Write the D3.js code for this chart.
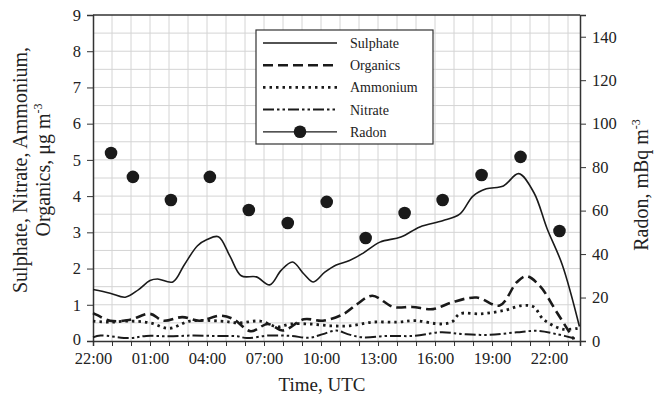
<!DOCTYPE html>
<html>
<head>
<meta charset="utf-8">
<script src="https://cdn.jsdelivr.net/npm/d3@7"></script>
<style>
  body { margin: 0; background: #fff; }
  text { font-family: "Liberation Serif", "Times New Roman", serif; fill: #222; }
</style>
</head>
<body>
<div id="graf"></div>
<script>
// Datos - tiempo en horas desde las 22:00
sulphate = [[0,1.42],[0.9,1.32],[1.7,1.21],[2.4,1.42],[3.0,1.67],[3.4,1.71],[4.2,1.63],[4.8,2.1],[5.5,2.63],[6.0,2.8],[6.6,2.88],[7.2,2.35],[7.8,1.8],[8.6,1.77],[9.3,1.55],[9.9,1.95],[10.5,2.18],[11.1,1.85],[11.6,1.63],[12.2,1.9],[12.8,2.1],[13.5,2.22],[14.2,2.42],[15.1,2.73],[16.2,2.87],[17.2,3.15],[18.4,3.32],[19.3,3.5],[20.0,4.0],[20.7,4.2],[21.6,4.28],[22.4,4.62],[23.2,4.1],[23.9,3.1],[24.7,2.1],[25.6,0.4]]
organics = [[0,0.77],[0.2,0.72],[0.9,0.56],[1.9,0.58],[3.0,0.75],[3.7,0.56],[4.7,0.66],[5.6,0.56],[6.7,0.7],[7.4,0.6],[8.3,0.27],[9.2,0.47],[10.0,0.29],[11.1,0.6],[12.1,0.56],[13.2,0.75],[13.9,1.02],[14.7,1.25],[15.8,0.94],[16.8,0.94],[17.9,0.88],[18.9,1.07],[20.2,1.2],[21.4,0.98],[22.3,1.62],[22.8,1.79],[23.5,1.53],[24.4,0.8],[25.3,0.05]]
ammonium = [[0,0.55],[0.9,0.52],[1.9,0.55],[3.0,0.5],[4.0,0.35],[5.1,0.55],[6.7,0.55],[7.7,0.5],[8.8,0.55],[9.7,0.39],[10.4,0.47],[11.4,0.47],[12.5,0.42],[13.5,0.42],[14.7,0.52],[16.0,0.52],[17.0,0.56],[18.3,0.47],[18.9,0.53],[19.3,0.75],[20.4,0.75],[21.6,0.84],[22.6,0.98],[23.2,0.94],[23.7,0.6],[24.7,0.33],[25.5,0.35]]
nitrate = [[0,0.1],[0.4,0.15],[1.9,0.08],[2.8,0.14],[4.0,0.13],[5.2,0.15],[6.4,0.14],[7.6,0.13],[8.1,0.08],[9.2,0.15],[10.4,0.14],[11.4,0.09],[12.1,0.19],[12.8,0.29],[13.4,0.19],[14.2,0.1],[15.5,0.14],[16.9,0.14],[18.3,0.24],[19.5,0.19],[20.9,0.17],[22.3,0.24],[23.4,0.28],[24.4,0.19],[25.5,0.05]]
radon = [[0.95,86.5],[2.1,75.5],[4.1,64.9],[6.15,75.5],[8.2,60.3],[10.25,54.3],[12.3,64.0],[14.35,47.4],[16.4,58.9],[18.4,64.9],[20.45,76.4],[22.5,84.7],[24.55,50.6]]

tickHoras = [0,3,6,9,12,15,18,21,24]
tickLabels = ['22:00','01:00','04:00','07:00','10:00','13:00','16:00','19:00','22:00']
series = ['Sulphate','Organics','Ammonium','Nitrate','Radon']

// Configuración del canvas
ancho_total = 654
alto_total = 401
margins = {top: 15, left: 93, right: 74, bottom: 60}
ancho = ancho_total - margins.left - margins.right
alto = alto_total - margins.top - margins.bottom

svg = d3.select('#graf').append('svg')
        .attr('width', ancho_total)
        .attr('height', alto_total)

g = svg.append('g')
       .attr('transform', `translate(${margins.left}, ${margins.top})`)

// -- Escaladores --
x = d3.scaleLinear().domain([0, 25.63]).range([0, ancho])
y = d3.scaleLinear().domain([0, 9]).range([alto, 0])
y2 = d3.scaleLinear().domain([0, 150]).range([alto, 0])

// -- Grilla --
grid = g.append('g')
grid.selectAll('.gv')
    .data(d3.range(1, 26))
    .enter().append('line')
    .attr('x1', d => x(d)).attr('x2', d => x(d))
    .attr('y1', 0).attr('y2', alto)
    .attr('stroke', '#d4d4d4').attr('stroke-width', 1)
grid.selectAll('.gh')
    .data(d3.range(0.5, 9, 0.5))
    .enter().append('line')
    .attr('x1', 0).attr('x2', ancho)
    .attr('y1', d => y(d)).attr('y2', d => y(d))
    .attr('stroke', '#d4d4d4').attr('stroke-width', 1)

// -- Ejes --
xAxGroup = g.append('g').attr('transform', `translate(0, ${alto})`)
xAxGroup.call(d3.axisBottom(x).tickValues(d3.range(0, 26)).tickSize(5).tickFormat(''))
xLab = g.append('g').attr('transform', `translate(0, ${alto})`)
xLab.call(d3.axisBottom(x).tickValues(tickHoras).tickSize(0).tickPadding(11)
      .tickFormat((d, i) => tickLabels[i]))
xLab.select('.domain').remove()

yAxGroup = g.append('g')
yAxGroup.call(d3.axisLeft(y).ticks(9).tickSize(6).tickPadding(6))
y2AxGroup = g.append('g').attr('transform', `translate(${ancho}, 0)`)
y2AxGroup.call(d3.axisRight(y2).tickValues(d3.range(0, 141, 20)).tickSize(6).tickPadding(6))

svg.selectAll('.tick text').style('font-size', '16.5px').style('font-family', '"Liberation Serif", serif')
yAxGroup.selectAll('.tick text').filter(d => d === 0).attr('dy', '0.2em')
svg.selectAll('.domain').attr('stroke', '#333').attr('stroke-width', 1.5)
svg.selectAll('.tick line').attr('stroke', '#333')

// borde superior
g.append('line').attr('x1', 0).attr('x2', ancho).attr('y1', 0).attr('y2', 0)
 .attr('stroke', '#333').attr('stroke-width', 1.5)

// -- Estilos de línea --
estilos = {
  Sulphate: {dash: null, w: 1.6},
  Organics: {dash: '10,5', w: 2.6},
  Ammonium: {dash: '2.5,4', w: 2.8},
  Nitrate: {dash: '11,3,2.5,3,2.5,3', w: 2}
}
datos = {Sulphate: sulphate, Organics: organics, Ammonium: ammonium, Nitrate: nitrate}

linea = d3.line()
          .x(d => x(d[0]))
          .y(d => y(d[1]))
          .curve(d3.curveCatmullRom.alpha(0.5))

// Render de la gráfica
function render() {
    ['Nitrate','Ammonium','Organics','Sulphate'].forEach(s => {
        g.append('path')
         .datum(datos[s])
         .attr('d', linea)
         .attr('fill', 'none')
         .attr('stroke', '#1a1a1a')
         .attr('stroke-width', estilos[s].w)
         .attr('stroke-dasharray', estilos[s].dash)
    })
    g.selectAll('.radon')
     .data(radon)
     .enter().append('circle')
     .attr('cx', d => x(d[0]))
     .attr('cy', d => y2(d[1]))
     .attr('r', 6.3)
     .attr('fill', '#1a1a1a')
}
render()

// -- Leyenda --
leg = svg.append('g').attr('transform', 'translate(256, 30)')
leg.append('rect').attr('width', 177).attr('height', 114)
   .attr('fill', '#fff').attr('stroke', '#333').attr('stroke-width', 1.2)
series.forEach((s, i) => {
    yy = 13 + i * 22.2
    l = leg.append('line').attr('x1', 7).attr('x2', 81).attr('y1', yy).attr('y2', yy)
           .attr('stroke', '#1a1a1a')
    if (s === 'Radon') {
        l.attr('stroke-width', 1.3)
        leg.append('circle').attr('cx', 44).attr('cy', yy).attr('r', 6.3).attr('fill', '#1a1a1a')
    } else {
        l.attr('stroke-width', estilos[s].w).attr('stroke-dasharray', estilos[s].dash)
    }
    leg.append('text').attr('x', 94).attr('y', yy).attr('dy', '0.35em')
       .style('font-size', '14px').text(s)
})

// -- Títulos --
svg.append('text').attr('x', 322).attr('y', 391).attr('text-anchor', 'middle')
   .style('font-size', '19px').text('Time, UTC')

t1 = svg.append('text').attr('transform', 'translate(27, 170) rotate(-90)')
        .attr('text-anchor', 'middle').style('font-size', '20px')
t1.append('tspan').attr('x', 0).attr('y', 0).text('Sulphate, Nitrate, Ammonium,')
t2 = t1.append('tspan').attr('x', 0).attr('y', 23)
t2.append('tspan').text('Organics, μg m')
t2.append('tspan').attr('dy', -8).style('font-size', '12px').text('-3')

t3 = svg.append('text').attr('transform', 'translate(648, 185) rotate(-90)')
        .attr('text-anchor', 'middle').style('font-size', '20px')
t3.append('tspan').text('Radon, mBq m')
t3.append('tspan').attr('dy', -8).style('font-size', '12px').text('-3')
</script>
</body>
</html>
